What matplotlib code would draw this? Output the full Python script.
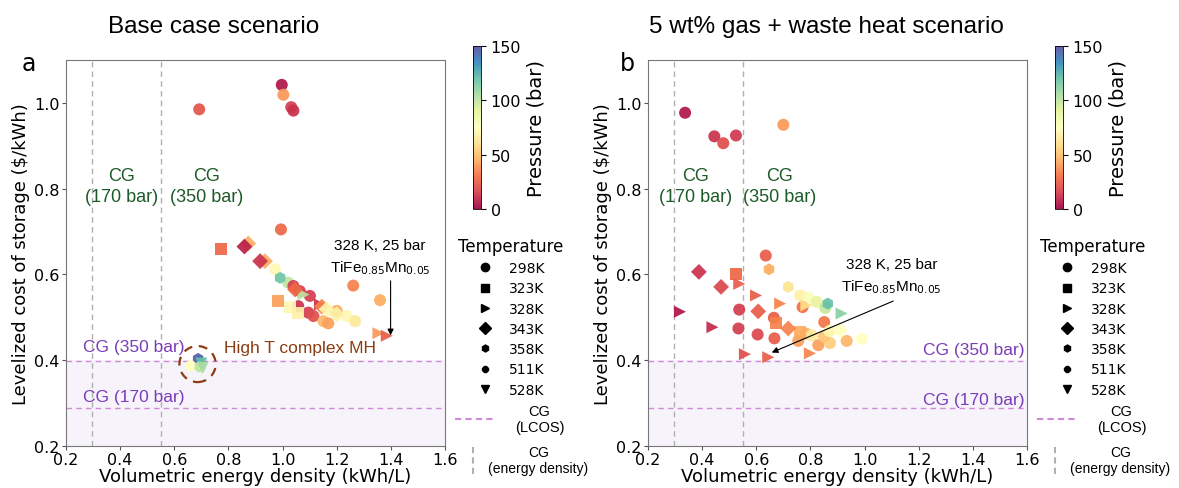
import numpy as np
import matplotlib
matplotlib.use('Agg')
import matplotlib.pyplot as plt
from matplotlib.lines import Line2D
from matplotlib.patches import Ellipse
from matplotlib.legend_handler import HandlerBase

# ---- data ----
temps = [298, 323, 328, 343, 358, 511, 528]
temp_markers = {298: 'o', 323: 's', 328: '>', 343: 'D', 358: 'h', 511: '8', 528: 'v'}

# panel a: base case
a_x = [0.692, 0.997, 1.003, 1.032, 1.040, 0.994, 0.773, 0.873, 0.859, 0.935, 0.917,
       0.972, 0.991, 1.021, 1.040, 1.046, 1.064, 1.077, 1.101, 1.261, 1.360, 0.982,
       1.027, 1.058, 1.058, 1.095, 1.114, 1.138, 1.145, 1.163, 1.200, 1.200, 1.151,
       1.169, 1.237, 1.268, 1.354, 1.385,
       0.660, 0.695, 0.688, 0.700, 0.705]
a_y = [0.985, 1.042, 1.019, 0.990, 0.982, 0.705, 0.660, 0.672, 0.665, 0.631, 0.631,
       0.612, 0.592, 0.581, 0.573, 0.565, 0.561, 0.553, 0.550, 0.574, 0.540, 0.537,
       0.523, 0.526, 0.511, 0.511, 0.503, 0.530, 0.525, 0.519, 0.515, 0.507, 0.491,
       0.486, 0.503, 0.491, 0.463, 0.457,
       0.387, 0.385, 0.403, 0.392, 0.382]
a_p = [22, 5, 40, 15, 12, 28, 28, 45, 8, 45, 12,
       72, 118, 100, 15, 28, 15, 100, 15, 35, 45, 42,
       72, 12, 68, 15, 20, 12, 35, 70, 45, 68, 48,
       42, 72, 65, 40, 25,
       75, 100, 145, 120, 105]
a_t = [298, 298, 298, 298, 298, 298, 323, 343, 343, 343, 343,
       298, 358, 298, 298, 343, 298, 328, 298, 298, 298, 323,
       323, 298, 323, 298, 298, 328, 343, 343, 298, 343, 298,
       298, 298, 298, 328, 328,
       511, 511, 358, 528, 528]

# panel b: 5 wt% gas + waste heat
b_x = [0.337, 0.445, 0.478, 0.525, 0.700, 0.635, 0.647, 0.388, 0.470, 0.525, 0.537,
       0.318, 0.438, 0.537, 0.534, 0.605, 0.599, 0.607, 0.665, 0.667, 0.672, 0.558,
       0.644, 0.688, 0.718, 0.762, 0.792, 0.823, 0.855, 0.864, 0.915, 0.771, 0.785,
       0.718, 0.760, 0.783, 0.805, 0.851, 0.755, 0.829, 0.798, 0.872, 0.909, 0.934,
       0.990, 0.850, 0.870]
b_y = [0.977, 0.922, 0.906, 0.924, 0.949, 0.644, 0.612, 0.606, 0.571, 0.600, 0.578,
       0.513, 0.477, 0.518, 0.474, 0.460, 0.551, 0.514, 0.499, 0.451, 0.486, 0.414,
       0.407, 0.532, 0.571, 0.551, 0.546, 0.536, 0.522, 0.532, 0.509, 0.524, 0.528,
       0.474, 0.466, 0.462, 0.458, 0.489, 0.445, 0.435, 0.416, 0.440, 0.470, 0.445,
       0.450, 0.455, 0.468]
b_p = [5, 12, 20, 14, 40, 25, 45, 12, 18, 28, 25,
       5, 10, 15, 15, 18, 25, 25, 25, 25, 35, 20,
       25, 35, 62, 68, 78, 88, 98, 120, 112, 30, 60,
       35, 45, 45, 65, 32, 42, 42, 35, 55, 75, 48,
       75, 52, 70]
b_t = [298, 298, 298, 298, 298, 298, 358, 343, 343, 323, 328,
       328, 328, 298, 298, 298, 328, 343, 298, 298, 323, 328,
       328, 328, 358, 298, 298, 298, 298, 358, 328, 298, 328,
       343, 323, 298, 298, 298, 298, 298, 328, 298, 343, 298,
       298, 298, 298]

cg_density = [0.295, 0.55]   # kWh/L, 170 bar and 350 bar
cg_lcos = [0.398, 0.288]     # $/kWh, 350 bar and 170 bar

green = '#1e5a28'
purple = '#7a3cb8'
brown = '#8b3c12'
lcos_color = '#cf8ad8'


class HandlerVLine(HandlerBase):
    def create_artists(self, legend, orig_handle, xdescent, ydescent,
                       width, height, fontsize, trans):
        x = width / 2 - xdescent
        line = Line2D([x, x], [-ydescent - height * 0.9, height * 1.9 - ydescent])
        self.update_prop(line, orig_handle, legend)
        line.set_transform(trans)
        return [line]


fig = plt.figure(figsize=(11.79, 4.89), dpi=100)
W, H = 1179, 489

panels = [
    dict(x=a_x, y=a_y, p=a_p, t=a_t, left=66, title='Base case scenario', tx=214, lab='a', lx=22),
    dict(x=b_x, y=b_y, p=b_p, t=b_t, left=648, title='5 wt% gas + waste heat scenario', tx=826, lab='b', lx=620),
]

for k, pn in enumerate(panels):
    ax = fig.add_axes([pn['left'] / W, 42 / H, 379 / W, 386 / H])
    ax.set_xlim(0.2, 1.6)
    ax.set_ylim(0.2, 1.1)
    ax.axhspan(0.2, 0.4, color='#f6f3fb', zorder=0)
    for v in cg_density:
        ax.axvline(v, color='#b0b0b0', ls=(0, (4, 3)), lw=1, zorder=1)
    for h in cg_lcos:
        ax.axhline(h, color=lcos_color, ls=(0, (4, 3)), lw=1, zorder=1)

    xs = np.array(pn['x']); ys = np.array(pn['y'])
    ps = np.array(pn['p']); ts = np.array(pn['t'])
    for T in temps:
        m = ts == T
        if not m.any():
            continue
        sc = ax.scatter(xs[m], ys[m], c=ps[m], cmap='Spectral', vmin=0, vmax=150,
                        marker=temp_markers[T], s=75 if T != 343 else 65,
                        edgecolors='none', alpha=0.92, zorder=3)

    ax.set_xticks([0.2, 0.4, 0.6, 0.8, 1.0, 1.2, 1.4, 1.6])
    ax.set_yticks([0.2, 0.4, 0.6, 0.8, 1.0])
    ax.tick_params(labelsize=11.5, color='#555555', length=3, pad=1.5)
    for s in ax.spines.values():
        s.set_color('#777777')
    ax.set_xlabel('Volumetric energy density (kWh/L)', fontsize=13, labelpad=0)
    ax.set_ylabel('Levelized cost of storage ($/kWh)', fontsize=13, labelpad=3)

    # CG energy density labels
    ctr = [0.406, 0.72] if k == 0 else [0.374, 0.685]
    for cx, lbl in zip(ctr, ['CG\n(170 bar)', 'CG\n(350 bar)']):
        ax.text(cx, 0.806, lbl, color=green, fontsize=13, ha='center', va='center',
                family='Liberation Sans', linespacing=1.3)

    # CG LCOS labels
    if k == 0:
        ax.text(0.263, 0.432, 'CG (350 bar)', color=purple, fontsize=12.5, ha='left',
                va='center', family='Liberation Sans')
        ax.text(0.263, 0.316, 'CG (170 bar)', color=purple, fontsize=12.5, ha='left',
                va='center', family='Liberation Sans')
        ax.add_patch(Ellipse((0.686, 0.391), 0.134, 0.084, fill=False, ec=brown,
                             ls=(0, (4, 3)), lw=1.6, zorder=4))
        ax.text(0.785, 0.43, 'High T complex MH', color=brown, fontsize=12.5,
                ha='left', va='center', family='Liberation Sans')
        ax.text(1.36, 0.64, '328 K, 25 bar\nTiFe$_{0.85}$Mn$_{0.05}$', ha='center',
                va='center', fontsize=11, family='Liberation Sans', linespacing=1.5)
        ax.annotate('', xy=(1.399, 0.458), xytext=(1.399, 0.585),
                    arrowprops=dict(arrowstyle='-|>', color='black', lw=0.8,
                                    shrinkA=0, shrinkB=0, mutation_scale=9),
                    zorder=5)
    else:
        ax.text(1.59, 0.425, 'CG (350 bar)', color=purple, fontsize=12.5, ha='right',
                va='center', family='Liberation Sans')
        ax.text(1.59, 0.308, 'CG (170 bar)', color=purple, fontsize=12.5, ha='right',
                va='center', family='Liberation Sans')
        ax.text(1.10, 0.596, '328 K, 25 bar\nTiFe$_{0.85}$Mn$_{0.05}$', ha='center',
                va='center', fontsize=11, family='Liberation Sans', linespacing=1.5)
        ax.annotate('', xy=(0.657, 0.418), xytext=(1.106, 0.538),
                    arrowprops=dict(arrowstyle='-|>', color='black', lw=0.8,
                                    shrinkA=0, shrinkB=0, mutation_scale=9),
                    zorder=5)

    fig.text(pn['tx'] / W, 1 - 27 / H, pn['title'], fontsize=17.5, ha='center',
             va='center', family='Liberation Sans')
    fig.text(pn['lx'] / W, 1 - 64 / H, pn['lab'], fontsize=17, ha='left', va='center')

    # colorbar
    off = pn['left'] - 66
    cax = fig.add_axes([(473 + off) / W, 1 - 210 / H, 8 / W, 163 / H])
    cb = fig.colorbar(sc, cax=cax, ticks=[0, 50, 100, 150])
    cb.ax.tick_params(labelsize=11.5)
    cb.set_label('Pressure (bar)', fontsize=14, labelpad=4)
    cb.outline.set_linewidth(0.6)

    # temperature legend
    handles = [Line2D([], [], ls='none', marker=temp_markers[T], color='black',
                      markersize=5 if T in (358, 511) else 6) for T in temps]
    fig.legend(handles, [f'{T}K' for T in temps], title='Temperature',
               loc='upper center', bbox_to_anchor=((511 + off) / W, 1 - 238 / H),
               frameon=False, fontsize=10, title_fontsize=12, handlelength=1,
               handletextpad=1.2, labelspacing=0.45, borderpad=0, borderaxespad=0)

    # CG reference lines legends
    h_lcos = Line2D([], [], color=lcos_color, ls=(0, (3, 2)), lw=1.5)
    leg2 = fig.legend([h_lcos], ['CG\n(LCOS)'],
                      loc='upper left', bbox_to_anchor=((455 + off) / W, 1 - 405 / H),
                      frameon=False, fontsize=10.5, handlelength=2.8, handletextpad=1.3,
                      borderpad=0, borderaxespad=0)
    h_dens = Line2D([], [], color='#b0b0b0', ls=(0, (3, 2)), lw=1.5)
    leg3 = fig.legend([h_dens], ['CG\n(energy density)'],
                      loc='upper left', bbox_to_anchor=((466 + off) / W, 1 - 446 / H),
                      frameon=False, fontsize=10, handlelength=1.0, handletextpad=0.6,
                      borderpad=0, borderaxespad=0,
                      handler_map={h_dens: HandlerVLine()})
    for lg in (leg2, leg3):
        for t in lg.get_texts():
            t.set_multialignment('center')
            t.set_family('Liberation Sans')

fig.savefig('out.png', dpi=100)
